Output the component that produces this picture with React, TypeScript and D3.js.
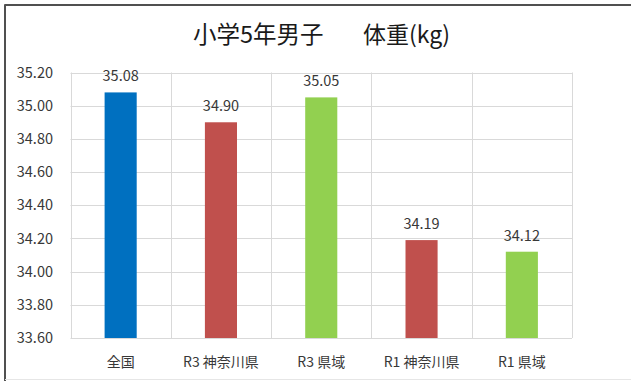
import React, { useEffect, useRef } from "react";
import * as d3 from "d3";

const categories = ["全国", "R3 神奈川県", "R3 県域", "R1 神奈川県", "R1 県域"];
const values = [35.08, 34.9, 35.05, 34.19, 34.12];
const barColors = ["#0070C0", "#C0504D", "#92D050", "#C0504D", "#92D050"];
const yTicks = [33.6, 33.8, 34.0, 34.2, 34.4, 34.6, 34.8, 35.0, 35.2];
const titleLeft = "小学5年男子";
const titleRight = "体重(kg)";

const W = 631;
const H = 381;
const FONT = "'Noto Sans CJK JP', 'Noto Sans', sans-serif";

export default function App() {
  const ref = useRef<SVGSVGElement>(null);

  useEffect(() => {
    const svg = d3.select(ref.current);
    svg.selectAll("*").remove();

    const left = 70.5, right = 572, top = 72.5, bottom = 338;

    svg.append("rect").attr("x", 0).attr("y", 0).attr("width", W).attr("height", H).attr("fill", "#fff");
    svg.append("line").attr("x1", 4.5).attr("x2", W).attr("y1", 5).attr("y2", 5).attr("stroke", "#505050").attr("stroke-width", 2);
    svg.append("line").attr("x1", 5).attr("x2", 5).attr("y1", 4.5).attr("y2", H).attr("stroke", "#505050").attr("stroke-width", 2);
    svg.append("line").attr("x1", 5).attr("x2", W).attr("y1", 379.5).attr("y2", 379.5).attr("stroke", "#e6e6e6").attr("stroke-width", 1);

    const x = d3.scaleBand<string>().domain(categories).range([left, right]).paddingInner(0).paddingOuter(0);
    const y = d3.scaleLinear().domain([33.6, 35.2]).range([bottom, top]);

    svg.append("g").selectAll("line").data(yTicks).join("line")
      .attr("x1", left).attr("x2", right)
      .attr("y1", (d) => Math.round(y(d)) + 0.5).attr("y2", (d) => Math.round(y(d)) + 0.5)
      .attr("stroke", "#d9d9d9").attr("stroke-width", 1);

    const bounds = categories.map((c) => x(c) as number).concat([right]);
    svg.append("g").selectAll("line").data(bounds).join("line")
      .attr("x1", (d) => Math.round(d) + 0.5).attr("x2", (d) => Math.round(d) + 0.5)
      .attr("y1", top).attr("y2", bottom)
      .attr("stroke", "#d9d9d9").attr("stroke-width", 1);

    const bw = x.bandwidth() * 0.32;
    svg.append("g").selectAll("rect").data(values).join("rect")
      .attr("x", (_, i) => (x(categories[i]) as number) + x.bandwidth() / 2 - bw / 2)
      .attr("width", bw)
      .attr("y", (d) => y(d))
      .attr("height", (d) => bottom - y(d))
      .attr("fill", (_, i) => barColors[i]);

    const txtColor = "#383838";

    svg.append("g").selectAll("text").data(values).join("text")
      .attr("x", (_, i) => (x(categories[i]) as number) + x.bandwidth() / 2)
      .attr("y", (d) => y(d) - 16).attr("dy", "0.35em")
      .attr("text-anchor", "middle")
      .attr("font-family", FONT).attr("font-size", 14.5).attr("fill", txtColor)
      .text((d) => d.toFixed(2));

    svg.append("g").selectAll("text").data(yTicks).join("text")
      .attr("x", 53).attr("y", (d) => y(d)).attr("dy", "0.35em")
      .attr("text-anchor", "end")
      .attr("font-family", FONT).attr("font-size", 14.5).attr("fill", txtColor)
      .text((d) => d.toFixed(2));

    svg.append("g").selectAll("text").data(categories).join("text")
      .attr("x", (d) => (x(d) as number) + x.bandwidth() / 2)
      .attr("y", 362).attr("dy", "0.35em")
      .attr("text-anchor", "middle")
      .attr("font-family", FONT).attr("font-size", 14).attr("fill", txtColor)
      .text((d) => d);

    svg.append("text")
      .attr("x", 193).attr("y", 35).attr("dy", "0.35em")
      .attr("text-anchor", "start")
      .attr("font-family", FONT).attr("font-size", 23.5).attr("fill", "#1a1a1a")
      .text(titleLeft);
    svg.append("text")
      .attr("x", 450).attr("y", 35).attr("dy", "0.35em")
      .attr("text-anchor", "end")
      .attr("font-family", FONT).attr("font-size", 23).attr("fill", "#1a1a1a")
      .text(titleRight);
  }, []);

  return (
    <svg ref={ref} width={W} height={H} style={{ position: "absolute", left: 0, top: 0, display: "block" }} />
  );
}
